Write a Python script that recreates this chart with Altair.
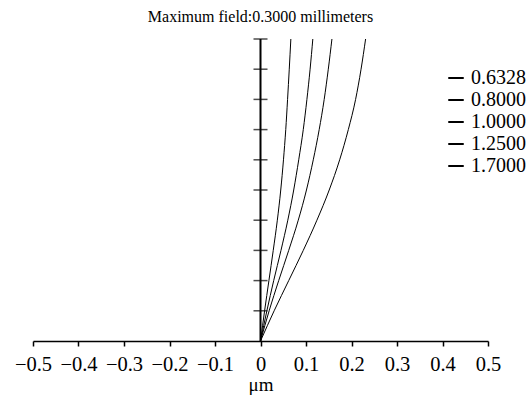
import altair as alt
import pandas as pd

# Data
fields = [0.0, 0.1, 0.2, 0.3, 0.4, 0.5, 0.6, 0.7, 0.8, 0.9, 1.0]
wavelengths = ["0.6328", "0.8000", "1.0000", "1.2500", "1.7000"]
shift_0_6328 = [0, 0, 0, 0, 0, 0, 0, 0, 0, 0, 0]
shift_0_8000 = [0, 0.009, 0.0185, 0.028, 0.037, 0.0445, 0.0505, 0.0555, 0.0595, 0.0632, 0.0667]
shift_1_0000 = [0, 0.014, 0.029, 0.045, 0.060, 0.073, 0.084, 0.094, 0.102, 0.109, 0.115]
shift_1_2500 = [0, 0.019, 0.040, 0.062, 0.083, 0.101, 0.116, 0.129, 0.140, 0.149, 0.157]
shift_1_7000 = [0, 0.030, 0.062, 0.094, 0.124, 0.151, 0.174, 0.193, 0.209, 0.221, 0.231]
x_ticks = [round(-0.5 + 0.05 * i, 2) for i in range(21)]
y_ticks = [0.1, 0.2, 0.3, 0.4, 0.5, 0.6, 0.7, 0.8, 0.9, 1.0]

series = [shift_0_6328, shift_0_8000, shift_1_0000, shift_1_2500, shift_1_7000]
rows = []
for w, s in zip(wavelengths, series):
    for f, v in zip(fields, s):
        rows.append({"wavelength": w, "field": f, "shift": v})
df = pd.DataFrame(rows)

FONT = "Liberation Serif"

xscale = alt.Scale(domain=[-0.5, 0.5], nice=False, zero=False)
yscale = alt.Scale(domain=[0, 1], nice=False)

label_expr = (
    "abs(datum.value*10 - round(datum.value*10)) < 0.001 ? "
    "(abs(datum.value) < 0.001 ? '0' : (datum.value < 0 ? '\u2212' + format(-datum.value, '.1f') : format(datum.value, '.1f'))) : ''"
)

lines = alt.Chart(df).mark_line(strokeWidth=1, interpolate="monotone").encode(
    x=alt.X("shift:Q", scale=xscale, title="\u03bcm",
            axis=alt.Axis(values=x_ticks, labelExpr=label_expr, grid=False,
                          domainColor="black", domainWidth=1.5, tickColor="black",
                          tickWidth=1.5, tickSize=5, labelFont=FONT, labelFontSize=20.5,
                          labelColor="black", labelPadding=8, labelFlush=False,
                          titleFont=FONT, titleFontSize=19, titleFontWeight="normal",
                          titleColor="black", titlePadding=1)),
    y=alt.Y("field:Q", scale=yscale, axis=None),
    color=alt.Color("wavelength:N",
                    scale=alt.Scale(domain=wavelengths, range=["black"] * 5),
                    legend=alt.Legend(orient="none", legendX=413, legendY=29, title=None,
                                      symbolType="stroke", symbolStrokeWidth=2,
                                      symbolSize=240, labelFont=FONT, labelFontSize=20,
                                      labelColor="black", rowPadding=2, labelOffset=5)),
    detail="wavelength:N",
    order="field:Q",
)

vaxis = alt.Chart(pd.DataFrame({"x": [0.0], "y0": [0.0], "y1": [1.0]})).mark_rule(
    color="black", strokeWidth=2
).encode(x=alt.X("x:Q", scale=xscale), y=alt.Y("y0:Q", scale=yscale), y2="y1:Q")

vticks = alt.Chart(pd.DataFrame({"x": [0.0] * len(y_ticks), "y": y_ticks})).mark_tick(
    orient="horizontal", color="black", size=14, thickness=1.5
).encode(x=alt.X("x:Q", scale=xscale), y=alt.Y("y:Q", scale=yscale))

chart = alt.layer(lines, vaxis, vticks).properties(
    width=455, height=302,
    title=alt.TitleParams("Maximum field:0.3000 millimeters", font=FONT, fontSize=16,
                          fontWeight="normal", color="black", anchor="middle", offset=12),
    autosize=alt.AutoSizeParams(type="none"),
    padding={"left": 33, "top": 39, "right": 41, "bottom": 56},
    background="white",
).configure_view(stroke=None)

chart.save("out.html", embed_options={"renderer": "svg", "actions": False})
